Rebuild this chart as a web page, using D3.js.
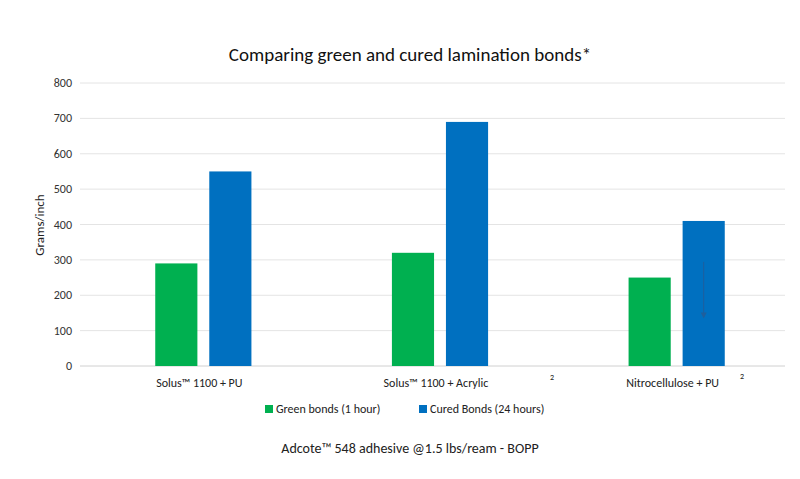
<!DOCTYPE html>
<html><head><meta charset="utf-8">
<script src="https://cdn.jsdelivr.net/npm/d3@7"></script>
<style>body{margin:0;background:#fff;font-family:Calibri,Carlito,"Open Sans",sans-serif}</style>
</head><body><svg id="c" width="800" height="479"></svg>
<script>
const categories = ['Solus™ 1100 + PU', 'Solus™ 1100 + Acrylic', 'Nitrocellulose  + PU'];
const greenBonds = [290, 320, 250];
const curedBonds = [550, 690, 410];
const yTicks = [0, 100, 200, 300, 400, 500, 600, 700, 800];
const seriesNames = ['Green bonds (1 hour)', 'Cured Bonds (24 hours)'];
const colors = ['#00b050', '#0070c0'];

const svg = d3.select('#c');
const x = d3.scaleBand().domain(categories).range([85, 795]);
const y = d3.scaleLinear().domain([0, 800]).range([366, 83]);
const sub = d3.scaleBand().domain([0, 1]).range([0, x.bandwidth()]).paddingInner(0.22).paddingOuter(1.3);

svg.append('g').selectAll('line').data(yTicks).join('line')
  .attr('x1', 80).attr('x2', 785).attr('y1', d => y(d)).attr('y2', d => y(d))
  .attr('stroke', d => d === 0 ? '#d0d0d0' : '#e4e4e4');

svg.append('g').selectAll('text').data(yTicks).join('text')
  .attr('x', 72).attr('y', d => y(d) + 4).attr('text-anchor', 'end')
  .attr('font-size', 12).attr('fill', '#333').text(d => d);

[greenBonds, curedBonds].forEach((vals, s) => {
  svg.append('g').selectAll('rect').data(vals).join('rect')
    .attr('x', (d, i) => x(categories[i]) + sub(s)).attr('width', sub.bandwidth())
    .attr('y', d => y(d)).attr('height', d => y(0) - y(d)).attr('fill', colors[s]);
});

// faint arrow inside third cured bar
const ax = x(categories[2]) + sub(1) + sub.bandwidth() / 2;
svg.append('line').attr('x1', ax).attr('x2', ax).attr('y1', y(300) + 2).attr('y2', y(140))
  .attr('stroke', '#1f5f9c').attr('stroke-width', 1);
svg.append('path').attr('d', `M${ax-3},${y(140)-4}L${ax+3},${y(140)-4}L${ax},${y(140)+2}Z`).attr('fill', '#1f5f9c');

svg.append('g').selectAll('text').data(categories).join('text')
  .attr('x', d => x(d) + x.bandwidth() / 2 - 4).attr('y', 387).attr('text-anchor', 'middle')
  .attr('font-size', 12).attr('fill', '#222').text(d => d);
[[550, 380], [740, 379]].forEach(([px, py]) =>
  svg.append('text').attr('x', px).attr('y', py).attr('font-size', 8).attr('fill', '#222').text('2'));

svg.append('text').attr('x', 410).attr('y', 61).attr('text-anchor', 'middle')
  .attr('font-size', 19).attr('fill', '#111').text('Comparing green and cured lamination bonds*');

svg.append('text').attr('transform', 'translate(44,225) rotate(-90)').attr('text-anchor', 'middle')
  .attr('font-size', 13).attr('fill', '#222').text('Grams/inch');

const lx = [265, 419];
seriesNames.forEach((n, i) => {
  svg.append('rect').attr('x', lx[i]).attr('y', 405).attr('width', 8).attr('height', 8).attr('fill', colors[i]);
  svg.append('text').attr('x', lx[i] + 11).attr('y', 413).attr('font-size', 12).attr('fill', '#222').text(n);
});

svg.append('text').attr('x', 410).attr('y', 453).attr('text-anchor', 'middle')
  .attr('font-size', 14).attr('fill', '#222').text('Adcote™ 548 adhesive @1.5 lbs/ream - BOPP');
</script></body></html>
